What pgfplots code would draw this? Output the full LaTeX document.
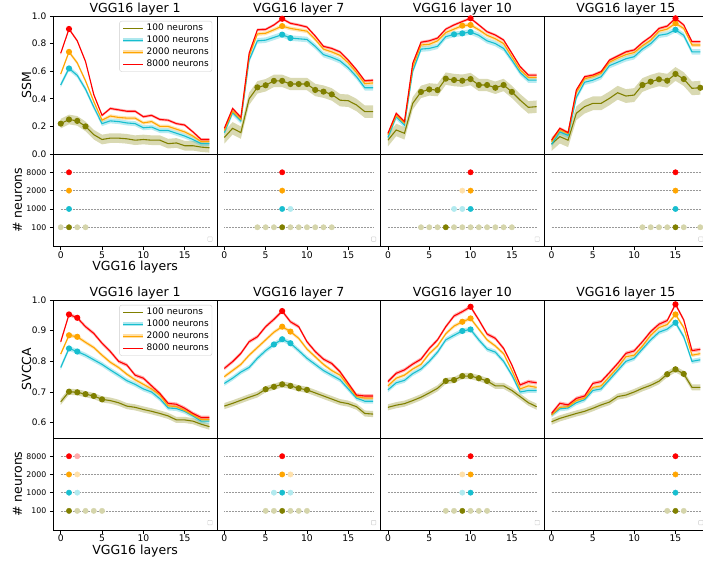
\documentclass[border=0pt]{standalone}
\usepackage{fontspec}
\setmainfont{DejaVu Sans}
\usepackage{pgfplots}
\usepackage{pgfplotstable}
\pgfplotsset{compat=1.18}
\usepgfplotslibrary{fillbetween}

\definecolor{cOl}{HTML}{808000}
\definecolor{cCy}{HTML}{17BECF}
\definecolor{cOr}{HTML}{FFA500}
\definecolor{cRd}{HTML}{FF0000}

% columns: a = 100, b = 1000, c = 2000, d = 8000 neurons
\pgfplotstableread{
x a b c d
0 0.22 0.50 0.58 0.73
1 0.25 0.62 0.74 0.906
2 0.24 0.57 0.66 0.82
3 0.20 0.47 0.53 0.67
4 0.14 0.34 0.38 0.43
5 0.105 0.22 0.245 0.28
6 0.115 0.24 0.275 0.33
7 0.115 0.235 0.265 0.32
8 0.11 0.225 0.26 0.31
9 0.10 0.22 0.26 0.31
10 0.105 0.19 0.225 0.27
11 0.10 0.195 0.235 0.28
12 0.10 0.17 0.20 0.25
13 0.075 0.17 0.20 0.245
14 0.08 0.15 0.18 0.22
15 0.06 0.13 0.16 0.21
16 0.06 0.105 0.13 0.16
17 0.05 0.075 0.09 0.105
18 0.045 0.075 0.09 0.105
}\tSa
\pgfplotstableread{
x a b c d
0 0.12 0.155 0.17 0.186
1 0.186 0.30 0.31 0.33
2 0.155 0.24 0.25 0.266
3 0.40 0.68 0.71 0.73
4 0.483 0.82 0.87 0.90
5 0.498 0.825 0.875 0.903
6 0.53 0.845 0.90 0.935
7 0.53 0.865 0.927 0.98
8 0.507 0.84 0.91 0.947
9 0.507 0.835 0.90 0.935
10 0.507 0.83 0.89 0.92
11 0.464 0.78 0.83 0.855
12 0.452 0.72 0.76 0.78
13 0.432 0.70 0.74 0.765
14 0.39 0.675 0.715 0.74
15 0.386 0.625 0.66 0.68
16 0.355 0.56 0.59 0.61
17 0.307 0.48 0.51 0.53
18 0.307 0.48 0.515 0.535
}\tSb
\pgfplotstableread{
x a b c d
0 0.10 0.12 0.14 0.15
1 0.174 0.27 0.28 0.295
2 0.15 0.21 0.225 0.235
3 0.367 0.60 0.63 0.657
4 0.45 0.76 0.79 0.81
5 0.468 0.765 0.795 0.82
6 0.463 0.78 0.82 0.84
7 0.546 0.85 0.88 0.905
8 0.536 0.867 0.905 0.935
9 0.531 0.874 0.93 0.96
10 0.543 0.884 0.935 0.983
11 0.50 0.86 0.90 0.935
12 0.50 0.82 0.86 0.886
13 0.48 0.80 0.835 0.862
14 0.50 0.765 0.80 0.826
15 0.45 0.68 0.705 0.73
16 0.39 0.59 0.61 0.633
17 0.338 0.535 0.555 0.572
18 0.343 0.535 0.555 0.572
}\tSc
\pgfplotstableread{
x a b c d
0 0.072 0.07 0.09 0.10
1 0.126 0.16 0.175 0.186
2 0.10 0.135 0.15 0.155
3 0.295 0.41 0.445 0.464
4 0.343 0.52 0.545 0.56
5 0.367 0.535 0.56 0.572
6 0.367 0.56 0.585 0.597
7 0.403 0.64 0.665 0.68
8 0.444 0.665 0.695 0.71
9 0.42 0.69 0.72 0.74
10 0.427 0.705 0.735 0.754
11 0.50 0.76 0.785 0.807
12 0.524 0.80 0.825 0.85
13 0.541 0.86 0.89 0.91
14 0.531 0.87 0.905 0.927
15 0.58 0.90 0.947 0.983
16 0.543 0.86 0.91 0.935
17 0.476 0.74 0.79 0.814
18 0.48 0.74 0.79 0.814
}\tSd
\pgfplotstableread{
x a b c d
0 0.668 0.78 0.824 0.864
1 0.701 0.842 0.885 0.953
2 0.699 0.832 0.88 0.942
3 0.693 0.82 0.862 0.913
4 0.687 0.805 0.845 0.891
5 0.676 0.79 0.82 0.859
6 0.672 0.772 0.797 0.832
7 0.665 0.755 0.78 0.80
8 0.654 0.737 0.758 0.788
9 0.65 0.725 0.74 0.755
10 0.643 0.71 0.725 0.745
11 0.637 0.70 0.71 0.72
12 0.63 0.678 0.69 0.695
13 0.622 0.648 0.655 0.663
14 0.609 0.646 0.652 0.66
15 0.609 0.637 0.64 0.647
16 0.605 0.622 0.625 0.63
17 0.595 0.605 0.61 0.617
18 0.587 0.605 0.61 0.617
}\tVa
\pgfplotstableread{
x a b c d
0 0.654 0.728 0.75 0.777
1 0.663 0.745 0.77 0.799
2 0.673 0.765 0.79 0.826
3 0.683 0.78 0.82 0.864
4 0.692 0.81 0.845 0.88
5 0.709 0.835 0.87 0.913
6 0.717 0.855 0.895 0.937
7 0.725 0.872 0.913 0.964
8 0.72 0.859 0.897 0.929
9 0.712 0.835 0.875 0.913
10 0.707 0.81 0.84 0.864
11 0.697 0.79 0.815 0.832
12 0.687 0.77 0.79 0.807
13 0.677 0.755 0.77 0.793
14 0.667 0.74 0.755 0.766
15 0.662 0.71 0.72 0.728
16 0.652 0.68 0.685 0.69
17 0.63 0.67 0.68 0.687
18 0.628 0.67 0.68 0.687
}\tVb
\pgfplotstableread{
x a b c d
0 0.65 0.707 0.72 0.734
1 0.657 0.73 0.745 0.761
2 0.662 0.738 0.755 0.772
3 0.672 0.76 0.775 0.791
4 0.683 0.775 0.79 0.807
5 0.697 0.80 0.825 0.842
6 0.712 0.83 0.85 0.87
7 0.736 0.87 0.89 0.913
8 0.739 0.885 0.915 0.948
9 0.752 0.899 0.929 0.962
10 0.752 0.904 0.94 0.978
11 0.745 0.87 0.905 0.935
12 0.736 0.84 0.87 0.889
13 0.72 0.83 0.85 0.875
14 0.72 0.80 0.825 0.842
15 0.705 0.755 0.77 0.788
16 0.685 0.70 0.71 0.723
17 0.665 0.705 0.72 0.734
18 0.652 0.705 0.715 0.73
}\tVc
\pgfplotstableread{
x a b c d
0 0.603 0.625 0.625 0.63
1 0.614 0.645 0.65 0.663
2 0.622 0.648 0.652 0.658
3 0.63 0.665 0.672 0.679
4 0.637 0.675 0.68 0.687
5 0.647 0.705 0.715 0.728
6 0.658 0.71 0.72 0.734
7 0.667 0.74 0.75 0.763
8 0.685 0.77 0.78 0.793
9 0.69 0.80 0.815 0.826
10 0.70 0.81 0.82 0.834
11 0.712 0.84 0.85 0.864
12 0.722 0.87 0.885 0.897
13 0.735 0.895 0.91 0.921
14 0.758 0.905 0.92 0.933
15 0.774 0.926 0.953 0.986
16 0.759 0.88 0.91 0.935
17 0.715 0.80 0.82 0.835
18 0.715 0.805 0.825 0.839
}\tVd

% #1 column, #2 colour, #3 band half-width, #4 marked indices, #5 table
\newcommand{\series}[5]{%
  \addplot[draw=none, forget plot, name path=U#1] table[x=x, y expr=\thisrow{#1}+#3] {#5};
  \addplot[draw=none, forget plot, name path=L#1] table[x=x, y expr=\thisrow{#1}-#3] {#5};
  \addplot[fill=#2, fill opacity=0.3, draw=none, forget plot] fill between[of=U#1 and L#1];
  \addplot[color=#2, line width=1.1pt, mark=*, mark size=2.5pt, mark indices={#4}, forget plot] table[x=x, y=#1] {#5};
}
\newcommand{\guides}{%
  \addplot[black!40, densely dotted, line width=0.5pt, forget plot] coordinates {(0,0) (18,0)};
  \addplot[black!40, densely dotted, line width=0.5pt, forget plot] coordinates {(0,1) (18,1)};
  \addplot[black!40, densely dotted, line width=0.5pt, forget plot] coordinates {(0,2) (18,2)};
  \addplot[black!40, densely dotted, line width=0.5pt, forget plot] coordinates {(0,3) (18,3)};
  \node[draw=black!20, rounded corners=0.6pt, minimum size=4.5pt, inner sep=0pt] at (axis description cs:0.958,0.08) {};
}
\newcommand{\lightdots}[2]{\addplot[only marks, mark=*, mark size=2.7pt, color=#1!33, forget plot] coordinates {#2};}
\newcommand{\darkdots}[2]{\addplot[only marks, mark=*, mark size=2.7pt, color=#1, forget plot] coordinates {#2};}
\newcommand{\legendimages}{%
  \addlegendimage{legend image code/.code={\draw[cOl, line width=1.1pt] (0pt,0pt) -- (20pt,0pt);}}
  \addlegendentry{100 neurons}
  \addlegendimage{legend image code/.code={\draw[cCy!35, line width=4pt] (0pt,0pt) -- (20pt,0pt); \draw[cCy, line width=1.1pt] (0pt,0pt) -- (20pt,0pt);}}
  \addlegendentry{1000 neurons}
  \addlegendimage{legend image code/.code={\draw[cOr!35, line width=4pt] (0pt,0pt) -- (20pt,0pt); \draw[cOr, line width=1.1pt] (0pt,0pt) -- (20pt,0pt);}}
  \addlegendentry{2000 neurons}
  \addlegendimage{legend image code/.code={\draw[cRd, line width=1.1pt] (0pt,0pt) -- (20pt,0pt);}}
  \addlegendentry{8000 neurons}
}

\pgfplotsset{
  base/.style={scale only axis, width=163.6pt, xmin=-0.9, xmax=18.9,
    anchor=south west, tick align=outside, major tick length=3.5pt,
    xtick pos=bottom, ytick pos=left,
    axis line style={line width=0.8pt, black},
    tick style={black, line width=0.6pt},
    xticklabel style={font=\fontsize{9.2}{10}\selectfont, inner sep=1.2pt},
    /pgf/number format/assume math mode=true,
    label style={font=\fontsize{12.5}{15}\selectfont}},
  lp/.style={base, height=138pt, xtick=\empty,
    every axis title shift=0pt,
    title style={font=\fontsize{12.5}{15}\selectfont, at={(0.5,1)}, anchor=base, yshift=3.8pt},
    yticklabel style={font=\fontsize{9}{10}\selectfont, /pgf/number format/.cd, fixed, fixed zerofill, precision=1},
    ylabel style={at={(axis description cs:-0.164,0.5)}, anchor=center},
    legend style={at={(0.971,0.964)}, anchor=north east, font=\fontsize{9}{10.5}\selectfont,
      draw=black!20, rounded corners=2pt, inner sep=1.5pt, row sep=0.6pt,
      nodes={inner sep=1.6pt}},
    legend cell align=left},
  dp/.style={base, height=92.5pt, ymin=-1.05, ymax=4, xtick={0,5,10,15},
    yticklabel style={font=\fontsize{7.8}{9}\selectfont},
    ylabel style={at={(axis description cs:-0.219,0.5)}, anchor=center},
    xlabel style={at={(axis description cs:0.5,0)}, anchor=center, yshift=-21pt, inner sep=0.5pt}},
}

\begin{document}
\begin{tikzpicture}

% ================= Row 1: SSM =================
\begin{axis}[lp, at={(53.3pt,408pt)}, ymin=0, ymax=1, ytick={0,0.2,0.4,0.6,0.8,1.0},
  title={VGG16 layer 1}, ylabel={SSM}]
\legendimages
\series{a}{cOl}{0.035}{1,2,3,4}{\tSa}
\series{b}{cCy}{0.018}{2}{\tSa}
\series{c}{cOr}{0.013}{2}{\tSa}
\series{d}{cRd}{0.01}{2}{\tSa}
\end{axis}
\begin{axis}[lp, at={(216.9pt,408pt)}, ymin=0, ymax=1, ytick=\empty, title={VGG16 layer 7}]
\series{a}{cOl}{0.045}{5,6,7,8,9,10,11,12,13,14}{\tSb}
\series{b}{cCy}{0.02}{8,9}{\tSb}
\series{c}{cOr}{0.014}{8}{\tSb}
\series{d}{cRd}{0.01}{8}{\tSb}
\end{axis}
\begin{axis}[lp, at={(380.5pt,408pt)}, ymin=0, ymax=1, ytick=\empty, title={VGG16 layer 10}]
\series{a}{cOl}{0.045}{5,6,7,8,9,10,11,12,13,14,15,16}{\tSc}
\series{b}{cCy}{0.02}{9,10,11}{\tSc}
\series{c}{cOr}{0.014}{10,11}{\tSc}
\series{d}{cRd}{0.01}{11}{\tSc}
\end{axis}
\begin{axis}[lp, at={(544.1pt,408pt)}, ymin=0, ymax=1, ytick=\empty, title={VGG16 layer 15}]
\series{a}{cOl}{0.05}{12,13,14,15,16,17,19}{\tSd}
\series{b}{cCy}{0.02}{16}{\tSd}
\series{c}{cOr}{0.014}{16}{\tSd}
\series{d}{cRd}{0.01}{16}{\tSd}
\end{axis}

\begin{axis}[dp, at={(53.3pt,315.5pt)}, ytick={0,1,2,3}, yticklabels={100,1000,2000,8000},
  ylabel={\# neurons}, xlabel={VGG16 layers}]
\guides
\darkdots{cRd}{(1,3)}
\darkdots{cOr}{(1,2)}
\darkdots{cCy}{(1,1)}
\lightdots{cOl}{(0,0) (2,0) (3,0)}
\darkdots{cOl}{(1,0)}
\end{axis}
\begin{axis}[dp, at={(216.9pt,315.5pt)}, ytick=\empty]
\guides
\darkdots{cRd}{(7,3)}
\darkdots{cOr}{(7,2)}
\lightdots{cCy}{(8,1)}
\darkdots{cCy}{(7,1)}
\lightdots{cOl}{(4,0) (5,0) (6,0) (8,0) (9,0) (10,0) (11,0) (12,0) (13,0)}
\darkdots{cOl}{(7,0)}
\end{axis}
\begin{axis}[dp, at={(380.5pt,315.5pt)}, ytick=\empty]
\guides
\darkdots{cRd}{(10,3)}
\lightdots{cOr}{(9,2)}
\darkdots{cOr}{(10,2)}
\lightdots{cCy}{(8,1) (9,1)}
\darkdots{cCy}{(10,1)}
\lightdots{cOl}{(4,0) (5,0) (6,0) (8,0) (9,0) (10,0) (11,0) (12,0) (13,0) (14,0) (15,0)}
\darkdots{cOl}{(7,0)}
\end{axis}
\begin{axis}[dp, at={(544.1pt,315.5pt)}, ytick=\empty]
\guides
\darkdots{cRd}{(15,3)}
\darkdots{cOr}{(15,2)}
\darkdots{cCy}{(15,1)}
\lightdots{cOl}{(11,0) (12,0) (13,0) (14,0) (16,0) (18,0)}
\darkdots{cOl}{(15,0)}
\end{axis}

% ================= Row 2: SVCCA =================
\begin{axis}[lp, at={(53.3pt,124pt)}, ymin=0.55, ymax=1, ytick={0.6,0.7,0.8,0.9,1.0},
  title={VGG16 layer 1}, ylabel={SVCCA}]
\legendimages
\series{a}{cOl}{0.01}{2,3,4,5,6}{\tVa}
\series{b}{cCy}{0.008}{2,3}{\tVa}
\series{c}{cOr}{0.006}{2,3}{\tVa}
\series{d}{cRd}{0.006}{2,3}{\tVa}
\end{axis}
\begin{axis}[lp, at={(216.9pt,124pt)}, ymin=0.55, ymax=1, ytick=\empty, title={VGG16 layer 7}]
\series{a}{cOl}{0.01}{6,7,8,9,10,11}{\tVb}
\series{b}{cCy}{0.008}{7,8,9}{\tVb}
\series{c}{cOr}{0.006}{8,9}{\tVb}
\series{d}{cRd}{0.006}{8}{\tVb}
\end{axis}
\begin{axis}[lp, at={(380.5pt,124pt)}, ymin=0.55, ymax=1, ytick=\empty, title={VGG16 layer 10}]
\series{a}{cOl}{0.01}{8,9,10,11,12,13}{\tVc}
\series{b}{cCy}{0.008}{10,11}{\tVc}
\series{c}{cOr}{0.006}{10,11}{\tVc}
\series{d}{cRd}{0.006}{11}{\tVc}
\end{axis}
\begin{axis}[lp, at={(544.1pt,124pt)}, ymin=0.55, ymax=1, ytick=\empty, title={VGG16 layer 15}]
\series{a}{cOl}{0.01}{15,16,17}{\tVd}
\series{b}{cCy}{0.008}{16}{\tVd}
\series{c}{cOr}{0.006}{16}{\tVd}
\series{d}{cRd}{0.006}{16}{\tVd}
\end{axis}

\begin{axis}[dp, at={(53.3pt,32pt)}, height=92pt, ytick={0,1,2,3}, yticklabels={100,1000,2000,8000},
  ylabel={\# neurons}, xlabel={VGG16 layers}]
\guides
\lightdots{cRd}{(2,3)}
\darkdots{cRd}{(1,3)}
\lightdots{cOr}{(2,2)}
\darkdots{cOr}{(1,2)}
\lightdots{cCy}{(2,1)}
\darkdots{cCy}{(1,1)}
\lightdots{cOl}{(2,0) (3,0) (4,0) (5,0)}
\darkdots{cOl}{(1,0)}
\end{axis}
\begin{axis}[dp, at={(216.9pt,32pt)}, height=92pt, ytick=\empty]
\guides
\darkdots{cRd}{(7,3)}
\lightdots{cOr}{(8,2)}
\darkdots{cOr}{(7,2)}
\lightdots{cCy}{(6,1) (8,1)}
\darkdots{cCy}{(7,1)}
\lightdots{cOl}{(5,0) (6,0) (8,0) (9,0) (10,0)}
\darkdots{cOl}{(7,0)}
\end{axis}
\begin{axis}[dp, at={(380.5pt,32pt)}, height=92pt, ytick=\empty]
\guides
\darkdots{cRd}{(10,3)}
\lightdots{cOr}{(9,2)}
\darkdots{cOr}{(10,2)}
\lightdots{cCy}{(9,1)}
\darkdots{cCy}{(10,1)}
\lightdots{cOl}{(7,0) (8,0) (10,0) (11,0) (12,0)}
\darkdots{cOl}{(9,0)}
\end{axis}
\begin{axis}[dp, at={(544.1pt,32pt)}, height=92pt, ytick=\empty]
\guides
\darkdots{cRd}{(15,3)}
\darkdots{cOr}{(15,2)}
\darkdots{cCy}{(15,1)}
\lightdots{cOl}{(14,0) (16,0)}
\darkdots{cOl}{(15,0)}
\end{axis}

\pgfresetboundingbox
\path[use as bounding box] (0pt,0pt) rectangle (703pt,562pt);
\end{tikzpicture}
\end{document}
